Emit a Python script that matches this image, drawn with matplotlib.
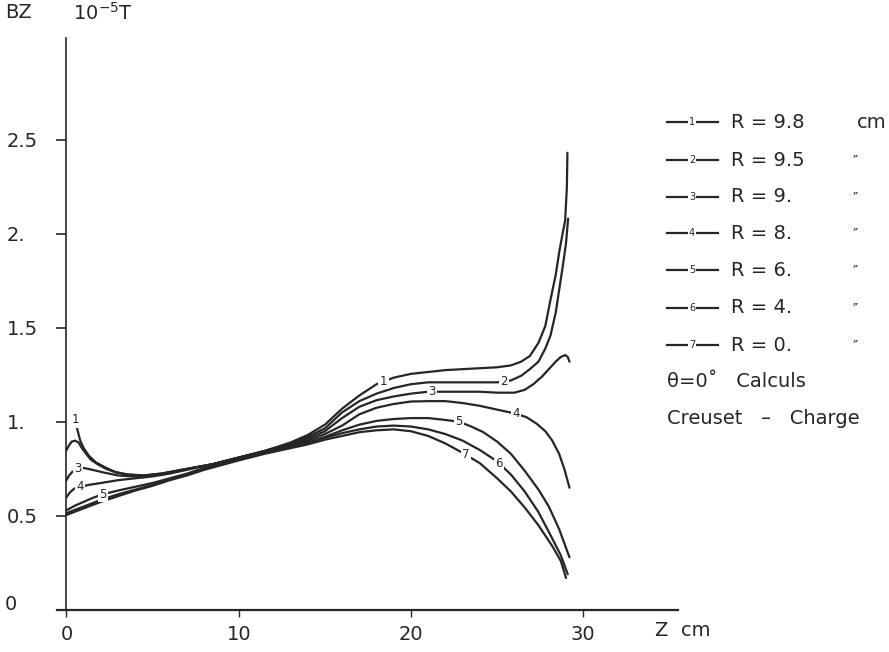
import numpy as np
import matplotlib
matplotlib.use("Agg")
import matplotlib.pyplot as plt
from matplotlib.lines import Line2D

# BZ (10^-5 T) along Z (cm), theta = 0, crucible - charge, one curve per radius
radii = ["9.8", "9.5", "9.", "8.", "6.", "4.", "0."]

z1 = [0.45, 0.6, 0.8, 1.0, 1.3, 1.7, 2.2, 2.8, 3.5, 4.5, 5.5, 7.0, 8.5, 10.0, 11.5, 13.0, 14.0, 15.0,
      16.0, 17.0, 18.0, 19.0, 20.0, 21.0, 22.0, 23.0, 24.0, 25.0, 25.8, 26.4, 26.9, 27.4, 27.8, 28.1,
      28.4, 28.6, 28.8, 28.95, 29.05, 29.08]
b1 = [1.03, 0.97, 0.90, 0.86, 0.82, 0.785, 0.76, 0.735, 0.72, 0.715, 0.725, 0.75, 0.775, 0.81, 0.845,
      0.89, 0.93, 0.985, 1.07, 1.14, 1.20, 1.235, 1.255, 1.265, 1.275, 1.28, 1.285, 1.29, 1.30, 1.32,
      1.35, 1.42, 1.51, 1.65, 1.78, 1.90, 2.0, 2.07, 2.25, 2.43]

z2 = [0, 0.15, 0.3, 0.5, 0.7, 0.9, 1.1, 1.4, 1.8, 2.3, 2.9, 3.6, 4.5, 5.5, 7.0, 8.5, 10.0, 11.5, 13.0,
      14.0, 15.0, 16.0, 17.0, 18.0, 19.0, 20.0, 21.0, 22.0, 23.0, 24.0, 25.0, 25.8, 26.4, 26.9, 27.4,
      27.8, 28.1, 28.4, 28.6, 28.8, 29.0, 29.12]
b2 = [0.85, 0.875, 0.895, 0.90, 0.89, 0.86, 0.835, 0.80, 0.775, 0.75, 0.73, 0.72, 0.715, 0.725, 0.75,
      0.775, 0.81, 0.845, 0.885, 0.92, 0.965, 1.05, 1.11, 1.15, 1.18, 1.20, 1.21, 1.21, 1.21, 1.21,
      1.21, 1.22, 1.245, 1.28, 1.32, 1.39, 1.46, 1.58, 1.70, 1.82, 1.95, 2.08]

z3 = [0, 0.15, 0.35, 0.65, 1.0, 1.5, 2.2, 3.0, 3.8, 4.5, 5.5, 7.0, 8.5, 10.0, 11.5, 13.0, 14.0, 15.0,
      16.0, 17.0, 18.0, 19.0, 20.0, 21.0, 22.0, 23.0, 24.0, 25.0, 26.0, 26.6, 27.1, 27.6, 28.0, 28.4,
      28.7, 28.95, 29.1, 29.2]
b3 = [0.69, 0.715, 0.735, 0.75, 0.755, 0.745, 0.73, 0.715, 0.71, 0.712, 0.722, 0.75, 0.775, 0.81,
      0.845, 0.88, 0.91, 0.95, 1.02, 1.08, 1.115, 1.135, 1.15, 1.16, 1.16, 1.16, 1.16, 1.155, 1.155,
      1.17, 1.20, 1.24, 1.28, 1.32, 1.345, 1.355, 1.345, 1.32]

z4 = [0, 0.2, 0.45, 0.8, 1.3, 2.0, 3.0, 4.0, 5.0, 6.0, 7.0, 8.5, 10.0, 11.5, 13.0, 14.0, 15.0, 16.0,
      17.0, 18.0, 19.0, 20.0, 21.0, 22.0, 23.0, 24.0, 25.0, 26.0, 26.7, 27.3, 27.8, 28.2, 28.6, 28.9,
      29.2]
b4 = [0.60, 0.625, 0.645, 0.655, 0.665, 0.675, 0.69, 0.70, 0.71, 0.725, 0.745, 0.775, 0.81, 0.84,
      0.875, 0.90, 0.935, 0.98, 1.04, 1.075, 1.095, 1.108, 1.11, 1.11, 1.10, 1.085, 1.065, 1.045,
      1.025, 0.99, 0.95, 0.90, 0.83, 0.75, 0.65]

z5 = [0, 0.5, 1.0, 1.5, 2.1, 3.0, 4.0, 5.0, 6.0, 7.0, 8.0, 9.0, 10.0, 11.5, 13.0, 14.0, 15.0, 16.0,
      17.0, 18.0, 19.0, 20.0, 21.0, 22.0, 22.8, 23.5, 24.2, 25.0, 25.8, 26.6, 27.4, 28.0, 28.6, 29.2]
b5 = [0.53, 0.555, 0.575, 0.595, 0.615, 0.635, 0.655, 0.675, 0.70, 0.725, 0.755, 0.78, 0.80, 0.835,
      0.87, 0.89, 0.92, 0.955, 0.985, 1.005, 1.015, 1.02, 1.02, 1.01, 1.00, 0.975, 0.945, 0.895, 0.83,
      0.74, 0.64, 0.55, 0.43, 0.28]

z6 = [0, 1.0, 2.0, 3.0, 4.0, 5.0, 6.0, 7.0, 8.0, 9.0, 10.0, 11.5, 13.0, 14.0, 15.0, 16.0, 17.0, 18.0,
      19.0, 20.0, 21.0, 22.0, 23.0, 24.0, 25.0, 25.8, 26.6, 27.4, 28.2, 28.7, 29.1]
b6 = [0.515, 0.55, 0.585, 0.615, 0.64, 0.665, 0.695, 0.72, 0.75, 0.775, 0.80, 0.835, 0.865, 0.89,
      0.915, 0.94, 0.96, 0.975, 0.98, 0.975, 0.96, 0.935, 0.90, 0.85, 0.79, 0.72, 0.63, 0.52, 0.38,
      0.29, 0.19]

z7 = [0, 1.0, 2.0, 3.0, 4.0, 5.0, 6.0, 7.0, 8.0, 9.0, 10.0, 11.5, 13.0, 14.0, 15.0, 16.0, 17.0, 18.0,
      19.0, 20.0, 21.0, 22.0, 23.0, 24.0, 25.0, 25.8, 26.6, 27.4, 28.2, 28.7, 29.0]
b7 = [0.505, 0.54, 0.575, 0.605, 0.635, 0.66, 0.69, 0.715, 0.745, 0.77, 0.795, 0.83, 0.86, 0.88,
      0.905, 0.925, 0.945, 0.955, 0.96, 0.95, 0.925, 0.885, 0.835, 0.78, 0.70, 0.63, 0.545, 0.45, 0.34,
      0.26, 0.17]

# where the curve numbers sit along Z
label_z = [[0.5, 18.4], [25.4], [0.65, 21.2], [0.8, 26.1], [2.1, 22.8], [25.1], [23.2]]

xticks = [0, 10, 20, 30]
yticks = [0, 0.5, 1, 1.5, 2, 2.5]
ytick_labels = ["0", "0.5", "1.", "1.5", "2.", "2.5"]

INK = "#262626"
W, H = 889, 652


def px(x, y):
    # pixel position (from top-left) -> figure fraction
    return x / W, 1 - y / H


def main():
    plt.rcParams['font.family'] = ['DejaVu Sans']
    fig = plt.figure(figsize=(8.89, 6.52), dpi=100)
    ax = fig.add_axes([57 / W, 42 / H, (678 - 57) / W, (610 - 38) / H])

    curves = [(z1, b1), (z2, b2), (z3, b3), (z4, b4), (z5, b5), (z6, b6), (z7, b7)]
    for i, (z, b) in enumerate(curves):
        ax.plot(z, b, color=INK, lw=1.6, solid_capstyle='round')
        for zl in label_z[i]:
            ax.text(zl, np.interp(zl, z, b), str(i + 1), fontsize=8.5, color=INK,
                    ha='center', va='center',
                    bbox=dict(boxstyle='square,pad=0.12', fc='white', ec='none'))

    ax.set_xlim(-0.55, 35.5)
    ax.set_ylim(0, 3.04)
    for s in ['top', 'right']:
        ax.spines[s].set_visible(False)
    ax.spines['left'].set_position(('data', 0))
    ax.spines['left'].set_color(INK)
    ax.spines['bottom'].set_color(INK)
    ax.spines['left'].set_linewidth(1.2)
    ax.spines['bottom'].set_linewidth(1.6)

    ax.set_xticks(xticks, [str(t) for t in xticks])
    ax.tick_params(axis='x', direction='out', length=5, width=1, colors=INK,
                   labelsize=14, pad=6)
    ax.set_yticks(yticks[1:], ytick_labels[1:])
    ax.tick_params(axis='y', direction='out', length=7, width=1.2, colors=INK,
                   labelsize=14, pad=36)
    for lab in ax.get_yticklabels():
        lab.set_ha('left')
    ax.text(*px(5, 605), ytick_labels[0], transform=fig.transFigure, fontsize=14,
            color=INK, ha='left', va='center')

    # axis titles
    fig.text(*px(5, 13), "BZ", fontsize=14, color=INK, ha='left', va='center')
    fig.text(*px(73, 13), r"10$^{-5}$T", fontsize=14, color=INK, ha='left', va='center')
    fig.text(*px(655, 631), "Z  cm", fontsize=14, color=INK, ha='left', va='center')

    # hand drawn legend on the right
    rows_y = [122, 160, 197, 233, 270, 308, 345]
    for i, (r, y) in enumerate(zip(radii, rows_y)):
        fx0, fy = px(667, y)
        fx1, _ = px(718, y)
        fig.add_artist(Line2D([fx0, fx1], [fy, fy], transform=fig.transFigure,
                              color=INK, lw=1.6))
        fig.text(*px(692, y), str(i + 1), fontsize=7, color=INK, ha='center', va='center',
                 bbox=dict(boxstyle='square,pad=0.1', fc='white', ec='none'))
        fig.text(*px(731, y), "R = " + r, fontsize=14, color=INK, ha='left', va='center')
        if i == 0:
            fig.text(*px(886, y), "cm", fontsize=14, color=INK, ha='right', va='center')
        else:
            fig.text(*px(853, y), "\u2033", fontsize=10, color=INK, ha='left', va='center')

    fig.text(*px(667, 382), "\u03b8=0\u02da   Calculs", fontsize=14, color=INK,
             ha='left', va='center')
    fig.text(*px(667, 419), "Creuset   \u2013   Charge", fontsize=14, color=INK,
             ha='left', va='center')

    fig.savefig("out.png", dpi=100, facecolor='white')


if __name__ == "__main__":
    main()
